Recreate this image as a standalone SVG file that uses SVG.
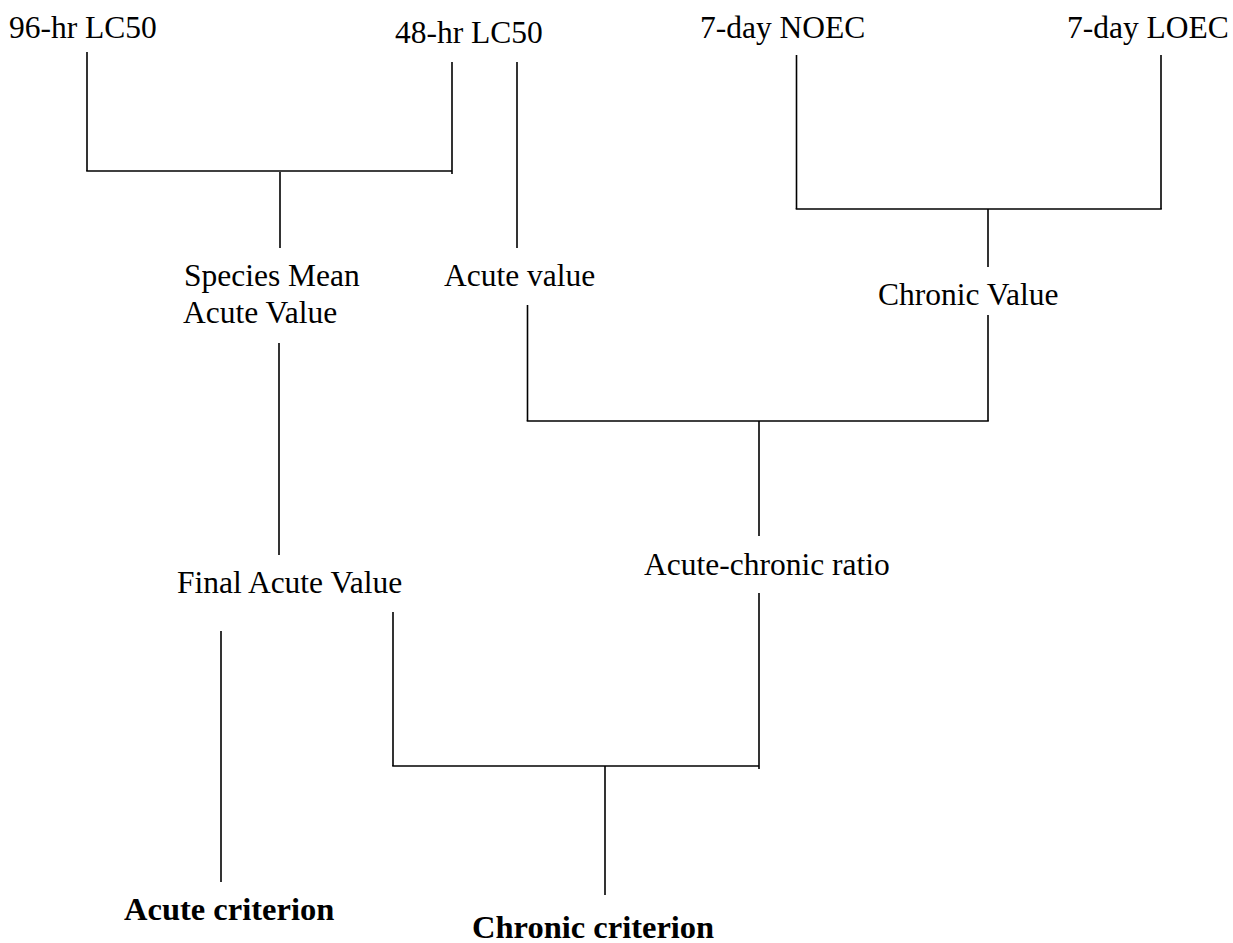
<svg xmlns="http://www.w3.org/2000/svg" width="1233" height="943" viewBox="0 0 1233 943">
<style>
text{font-family:"Liberation Serif","Times New Roman",serif;font-size:31.5px;fill:#000}
.b{font-weight:bold;font-size:32.5px}
#connectors line{stroke:#000;stroke-width:1.6;fill:none}
</style>
<rect width="1233" height="943" fill="#fff"/>
<g id="connectors">
<line x1="87" y1="52" x2="87" y2="171"/>
<line x1="86.2" y1="171" x2="452" y2="171"/>
<line x1="452" y1="62" x2="452" y2="174"/>
<line x1="280" y1="172" x2="280" y2="248"/>
<line x1="517" y1="62" x2="517" y2="248"/>
<line x1="796.5" y1="55" x2="796.5" y2="209"/>
<line x1="1161" y1="55" x2="1161" y2="209"/>
<line x1="795.7" y1="209" x2="1161.8" y2="209"/>
<line x1="988" y1="209" x2="988" y2="267"/>
<line x1="279" y1="343" x2="279" y2="555"/>
<line x1="527.5" y1="305" x2="527.5" y2="421"/>
<line x1="988" y1="315" x2="988" y2="421"/>
<line x1="526.7" y1="421" x2="988.8" y2="421"/>
<line x1="759" y1="421" x2="759" y2="536"/>
<line x1="221" y1="631" x2="221" y2="882"/>
<line x1="393" y1="612" x2="393" y2="766"/>
<line x1="392.2" y1="766" x2="759" y2="766"/>
<line x1="759" y1="593" x2="759" y2="769"/>
<line x1="605" y1="766" x2="605" y2="895"/>
</g>
<g id="n96"><text x="9" y="38">96-hr LC50</text></g>
<g id="n48"><text x="395" y="43">48-hr LC50</text></g>
<g id="noec"><text x="700" y="38">7-day NOEC</text></g>
<g id="loec"><text x="1067" y="38">7-day LOEC</text></g>
<g id="smav"><text x="184" y="286">Species Mean</text><text x="183" y="323">Acute Value</text></g>
<g id="av"><text x="444" y="286">Acute value</text></g>
<g id="cv"><text x="878" y="305">Chronic Value</text></g>
<g id="acr"><text x="644" y="575">Acute-chronic ratio</text></g>
<g id="fav"><text x="177" y="593">Final Acute Value</text></g>
<g id="acute"><text class="b" x="124" y="920">Acute criterion</text></g>
<g id="chronic"><text class="b" x="472" y="938">Chronic criterion</text></g>
</svg>
